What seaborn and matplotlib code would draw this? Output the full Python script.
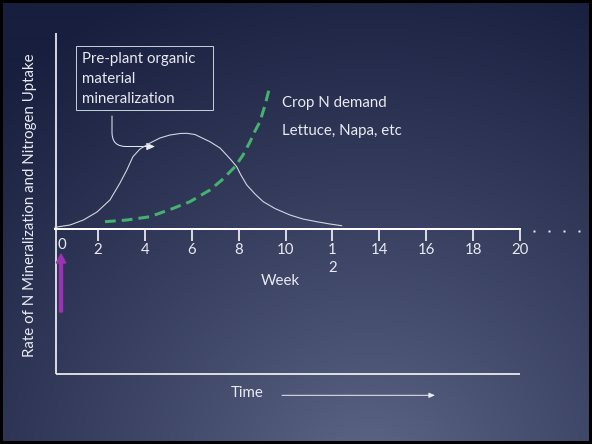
import numpy as np
import pandas as pd
import matplotlib
matplotlib.use("Agg")
import matplotlib.pyplot as plt
import seaborn as sns
from matplotlib.patches import Rectangle

# ---------------- data ----------------
bell_week = [0.18, 0.82, 1.39, 1.97, 2.52, 2.95, 3.24, 3.50, 3.80, 4.23, 4.65, 5.08, 5.51, 5.79,
             6.14, 6.78, 7.21, 7.49, 7.72, 7.92, 8.10, 8.35, 8.70, 9.05, 9.55, 10.19, 10.74,
             11.33, 11.89, 12.39]
bell_rate = [1.7, 4.0, 9.0, 17.0, 29.0, 46.0, 59.0, 72.3, 80.0, 86.0, 91.0, 94.0, 95.5, 95.7,
             94.5, 87.3, 81.0, 74.0, 68.0, 62.3, 54.0, 44.0, 35.0, 27.3, 20.5, 14.0, 10.0,
             7.3, 5.0, 3.3]

demand_week = [2.31, 3.24, 4.23, 5.22, 5.93, 6.78, 7.29, 7.85, 8.19, 8.49, 8.70, 8.91, 9.13, 9.31]
demand_rate = [7.3, 9.0, 12.3, 20.7, 27.3, 39.0, 49.0, 62.3, 74.0, 87.3, 98.0, 107.3, 124.0, 140.7]

tick_weeks = [2, 4, 6, 8, 10, 12, 14, 16, 18, 20]
tick_labels = ["2", "4", "6", "8", "10", "1\n2", "14", "16", "18", "20"]
grey_ticks = [2, 4, 12, 16]

box_text = "Pre-plant organic\nmaterial\nmineralization"
crop_title = "Crop N demand"
crop_sub = "Lettuce, Napa, etc"
y_title = "Rate of N Mineralization and Nitrogen Uptake"
x_title = "Week"
time_title = "Time"

# ---------------- style ----------------
plt.rcParams["font.family"] = ["Lato", "DejaVu Sans"]
TXT = "#e9ebf1"
PX = 0.72  # points per pixel at dpi 100
FS = 10.8

W, H = 592, 444
fig = plt.figure(figsize=(W / 100, H / 100), dpi=100)

# background (slide gradient) in pixel coordinates
bg = fig.add_axes([0, 0, 1, 1])
yy, xx = np.mgrid[0:H, 0:W]
d = np.sqrt((xx - 370) ** 2 + ((yy - 480) * 1.05) ** 2)
t = np.clip(d / 560.0, 0, 1) ** 0.85
c0 = np.array([0x62, 0x6a, 0x8b]) / 255.0
c1 = np.array([0x17, 0x1e, 0x3e]) / 255.0
img = c0[None, None, :] * (1 - t[..., None]) + c1[None, None, :] * t[..., None]
bg.imshow(img, extent=(0, W, H, 0), aspect="auto", zorder=0, interpolation="bilinear")
bg.set_xlim(0, W)
bg.set_ylim(H, 0)
bg.axis("off")

# black slide border
bg.add_patch(Rectangle((0, 0), W, H, fill=False, edgecolor="black", lw=6 * PX, zorder=10))

# outer frame lines
bg.plot([55.7, 55.7], [32.7, 374], color="white", lw=1.6 * PX, solid_capstyle="butt", zorder=3)
bg.plot([55.5, 520.3], [374, 374], color="white", lw=1.6 * PX, solid_capstyle="butt", zorder=3)

# ---------------- data axes ----------------
x0, x1 = 55.0, 520.3
y0, y1 = 229.0, 33.0
ax = fig.add_axes([x0 / W, 1 - y0 / H, (x1 - x0) / W, (y0 - y1) / H])
ax.set_facecolor("none")
ax.set_xlim(0.181, 20)
ax.set_ylim(0, 196)

df_bell = pd.DataFrame({"week": bell_week, "rate": bell_rate})
df_dem = pd.DataFrame({"week": demand_week, "rate": demand_rate})
sns.lineplot(data=df_bell, x="week", y="rate", ax=ax, color="#d3d7e2", lw=1.1 * PX,
             estimator=None, sort=False)
sns.lineplot(data=df_dem, x="week", y="rate", ax=ax, color="#45b26f", lw=3.0 * PX,
             estimator=None, sort=False)
ax.lines[-1].set_dashes((3.6, 2.0))
for ln in ax.lines:
    ln.set_clip_on(False)
    ln.set_solid_joinstyle("round")

for s in ["left", "right", "top"]:
    ax.spines[s].set_visible(False)
ax.spines["bottom"].set_color("white")
ax.spines["bottom"].set_linewidth(2 * PX)
ax.set_yticks([])
ax.set_xticks(tick_weeks)
ax.set_xticklabels(tick_labels)
ax.tick_params(axis="x", direction="out", length=12 * PX, width=1.6 * PX, colors="white",
               labelcolor=TXT, labelsize=FS, pad=2 * PX)
for wk, tk in zip(tick_weeks, ax.xaxis.get_major_ticks()):
    if wk in grey_ticks:
        tk.tick1line.set_color("#8e94aa")
for lab in ax.get_xticklabels():
    lab.set_linespacing(1.4)
ax.set_xlabel("")
ax.set_ylabel("")

# ---------------- annotations (pixel coordinates) ----------------
bg_z = 5
bg.text(61.7, 245, "0", color=TXT, fontsize=FS, ha="center", va="center", zorder=bg_z)
bg.text(280.7, 280.7, x_title, color=TXT, fontsize=FS, ha="center", va="center", zorder=bg_z)
bg.text(30, 205.5, y_title, color=TXT, fontsize=FS, ha="center", va="center", rotation=90, zorder=bg_z)
bg.text(247, 393.3, time_title, color=TXT, fontsize=FS, ha="center", va="center", zorder=bg_z)
bg.annotate("", xy=(435, 395.3), xytext=(282, 395.3),
            arrowprops=dict(arrowstyle="-|>,head_length=0.35,head_width=0.15", color="#e9ebf1",
                            lw=1.0 * PX, shrinkA=0, shrinkB=0), zorder=bg_z)

# ellipsis dots
bg.plot([534.3, 549, 564, 579.3], [231.3] * 4, ls="none", marker="s", ms=2.2 * PX,
        color="#e9ebf1", mec="none", zorder=bg_z)

# purple arrow at week 0
bg.arrow(61, 312, 0, -58, width=3, head_width=9.5, head_length=9, length_includes_head=True,
         color="#9a33b4", zorder=bg_z)

# text box
bg.add_patch(Rectangle((75.7, 46), 137.3, 64, fill=False, edgecolor="#c7cbd6", lw=1.0 * PX, zorder=bg_z))
for i, line in enumerate(box_text.split("\n")):
    bg.text(81.7, 59.3 + 20 * i, line, color=TXT, fontsize=FS, ha="left", va="center", zorder=bg_z)
bg.annotate("", xy=(155, 146.5), xytext=(112, 116),
            arrowprops=dict(arrowstyle="-|>,head_length=0.5,head_width=0.22", color="#e9ebf1",
                            lw=1.0 * PX, shrinkA=0, shrinkB=0,
                            connectionstyle="angle,angleA=90,angleB=0,rad=14"), zorder=bg_z)

bg.text(281.7, 102.7, crop_title, color=TXT, fontsize=FS, ha="left", va="center", zorder=bg_z)
bg.text(281.7, 131, crop_sub, color=TXT, fontsize=FS, ha="left", va="center", zorder=bg_z)

fig.savefig("out.png", dpi=100)
